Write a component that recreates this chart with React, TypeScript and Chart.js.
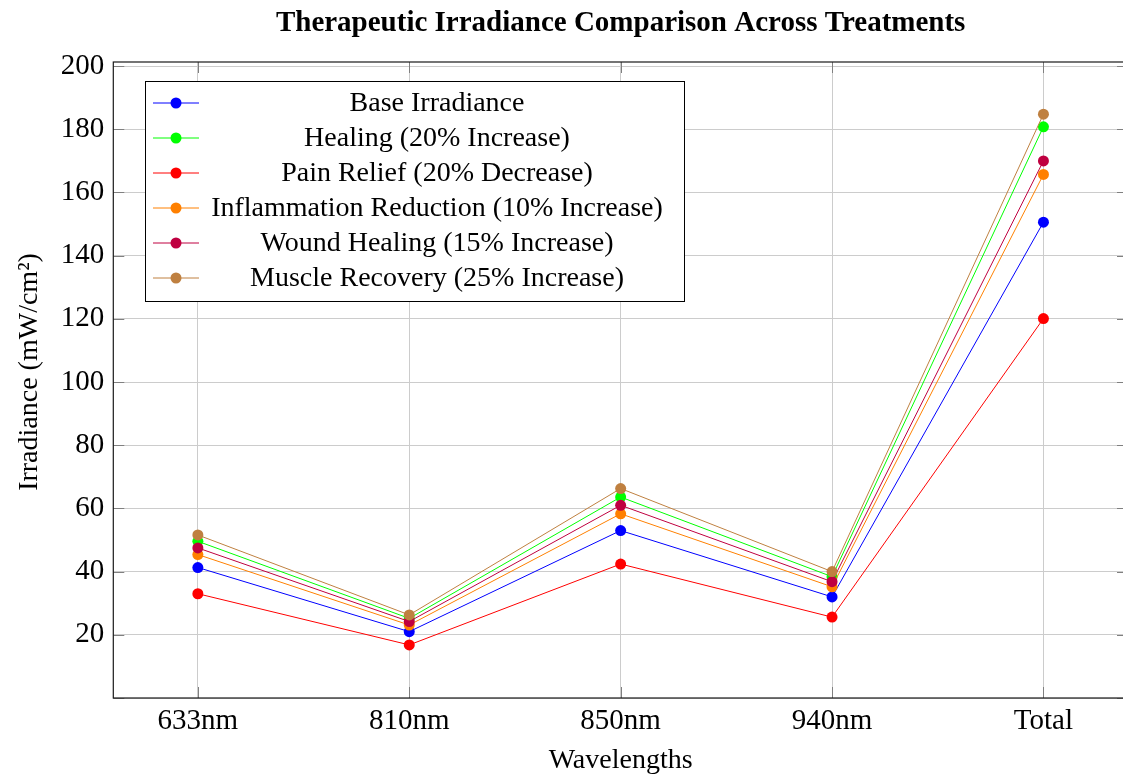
import React, { useEffect, useRef } from "react";
import { Chart, registerables } from "chart.js";

Chart.register(...registerables);

const categories = ["633nm", "810nm", "850nm", "940nm", "Total"];
const base = [41.3, 21.0, 53.0, 32.0, 150.6];
const healing = [49.6, 25.2, 63.6, 38.4, 180.8];
const pain = [33.0, 16.8, 42.4, 25.6, 120.1];
const inflammation = [45.4, 23.1, 58.3, 35.2, 165.7];
const wound = [47.5, 24.2, 61.0, 36.8, 170.0];
const muscle = [51.6, 26.3, 66.3, 40.0, 184.8];
const yTicks = [0, 20, 40, 60, 80, 100, 120, 140, 160, 180, 200];

const seriesNames = [
  "Base Irradiance",
  "Healing (20% Increase)",
  "Pain Relief (20% Decrease)",
  "Inflammation Reduction (10% Increase)",
  "Wound Healing (15% Increase)",
  "Muscle Recovery (25% Increase)",
];
const seriesValues = [base, healing, pain, inflammation, wound, muscle];
const seriesColors = ["#0000ff", "#00ff00", "#ff0000", "#ff8000", "#bf0040", "#bf8040"];

const TITLE = "Therapeutic Irradiance Comparison Across Treatments";
const X_TITLE = "Wavelengths";
const Y_TITLE = "Irradiance (mW/cm²)";
const FONT = "'Liberation Serif', 'Times New Roman', serif";

const overlay = {
  id: "overlay",
  afterDraw(chart: any) {
    const ctx = chart.ctx;
    const a = chart.chartArea;
    const xs = chart.scales.x;
    const ys = chart.scales.y;
    ctx.save();
    // tick marks inside
    ctx.strokeStyle = "#808080";
    ctx.lineWidth = 1;
    ctx.beginPath();
    categories.forEach((_, i) => {
      const px = Math.round(xs.getPixelForValue(i)) + 0.5;
      ctx.moveTo(px, a.bottom);
      ctx.lineTo(px, a.bottom - 11);
      ctx.moveTo(px, a.top);
      ctx.lineTo(px, a.top + 11);
    });
    yTicks.forEach((v) => {
      const py = Math.round(ys.getPixelForValue(v)) + 0.5;
      ctx.moveTo(a.left, py);
      ctx.lineTo(a.left + 11, py);
      ctx.moveTo(a.right, py);
      ctx.lineTo(a.right - 11, py);
    });
    ctx.stroke();
    // frame
    ctx.strokeStyle = "#1a1a1a";
    ctx.lineWidth = 1.2;
    ctx.strokeRect(a.left, a.top, a.right - a.left, a.bottom - a.top);

    // title
    ctx.fillStyle = "#000";
    ctx.font = `bold 29px ${FONT}`;
    ctx.textAlign = "center";
    ctx.textBaseline = "alphabetic";
    ctx.fillText(TITLE, (a.left + a.right) / 2, 31);

    // axis titles
    ctx.font = `28px ${FONT}`;
    ctx.fillText(X_TITLE, (a.left + a.right) / 2, 768);
    ctx.save();
    ctx.translate(37, 372);
    ctx.rotate(-Math.PI / 2);
    ctx.fillText(Y_TITLE, 0, 0);
    ctx.restore();

    // legend
    const lx = 145, ly = 81, lw = 539, lh = 220;
    ctx.fillStyle = "#fff";
    ctx.fillRect(lx, ly, lw, lh);
    ctx.strokeStyle = "#000";
    ctx.lineWidth = 1;
    ctx.strokeRect(lx + 0.5, ly + 0.5, lw, lh);
    seriesNames.forEach((name, i) => {
      const cy = 103 + i * 35;
      ctx.strokeStyle = seriesColors[i];
      ctx.lineWidth = 1;
      ctx.beginPath();
      ctx.moveTo(153, cy);
      ctx.lineTo(199, cy);
      ctx.stroke();
      ctx.fillStyle = seriesColors[i];
      ctx.beginPath();
      ctx.arc(176, cy, 5.5, 0, Math.PI * 2);
      ctx.fill();
      ctx.fillStyle = "#000";
      ctx.font = `28px ${FONT}`;
      ctx.textAlign = "center";
      ctx.textBaseline = "middle";
      ctx.fillText(name, 437, cy + 1);
    });
    ctx.restore();
  },
};

export default function App() {
  const ref = useRef<HTMLCanvasElement | null>(null);
  useEffect(() => {
    document.body.style.margin = "0";
    const canvas = ref.current!;
    const chart = new Chart(canvas, {
      type: "line",
      data: {
        datasets: seriesNames.map((name, i) => ({
          label: name,
          data: seriesValues[i].map((v, j) => ({ x: j, y: v })),
          borderColor: seriesColors[i],
          backgroundColor: seriesColors[i],
          pointBackgroundColor: seriesColors[i],
          pointBorderWidth: 0,
          pointRadius: 5.5,
          borderWidth: 1,
          tension: 0,
          fill: false,
          order: seriesNames.length - 1 - i,
        })),
      },
      options: {
        responsive: false,
        animation: false,
        devicePixelRatio: 1,
        layout: { padding: { top: 62, right: 12, left: 0, bottom: 0 } },
        plugins: {
          legend: { display: false },
          title: { display: false },
          tooltip: { enabled: false },
        },
        scales: {
          x: {
            type: "linear",
            min: -0.4,
            max: 4.4,
            afterBuildTicks: (s: any) => {
              s.ticks = categories.map((_, i) => ({ value: i }));
            },
            afterFit: (s: any) => {
              s.height = 76;
            },
            ticks: {
              callback: (v: any) => categories[Math.round(Number(v))] ?? "",
              color: "#000",
              font: { family: FONT, size: 29 },
              padding: 6,
              maxRotation: 0,
              autoSkip: false,
            },
            grid: { color: "#cccccc", lineWidth: 1, drawTicks: false },
            border: { display: false },
          },
          y: {
            type: "linear",
            min: 0,
            max: 201.3,
            afterBuildTicks: (s: any) => {
              s.ticks = yTicks.map((v) => ({ value: v }));
            },
            afterFit: (s: any) => {
              s.width = 113.3;
            },
            ticks: {
              callback: (v: any) => (Number(v) === 0 ? "" : String(v)),
              color: "#000",
              font: { family: FONT, size: 29 },
              padding: 9,
            },
            grid: { color: "#cccccc", lineWidth: 1, drawTicks: false },
            border: { display: false },
          },
        },
      },
      plugins: [overlay],
    });
    return () => chart.destroy();
  }, []);
  return (
    <div style={{ position: "fixed", left: 0, top: 0, width: 1123, height: 774, overflow: "hidden", background: "#fff" }}>
      <canvas ref={ref} width={1140} height={774} style={{ display: "block" }} />
    </div>
  );
}
